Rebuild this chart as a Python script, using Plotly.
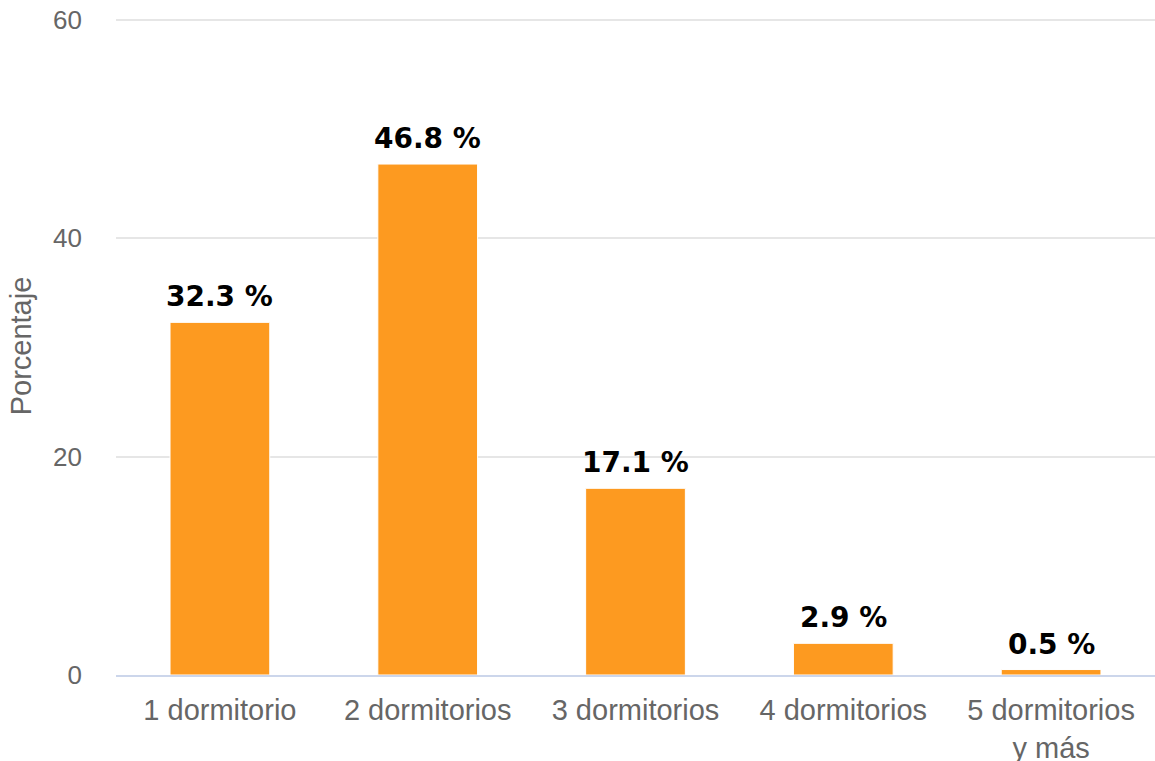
import plotly.graph_objects as go

categories = ["1 dormitorio", "2 dormitorios", "3 dormitorios", "4 dormitorios", "5 dormitorios<br>y más"]
values = [32.3, 46.8, 17.1, 2.9, 0.5]
y_ticks = [0, 20, 40, 60]

fig = go.Figure()
fig.add_trace(go.Bar(
    x=categories, y=values,
    marker=dict(color="#fd9a20", line=dict(color="#ffffff", width=1)),
    width=0.48,
    hoverinfo="skip",
))

for c, v in zip(categories, values):
    fig.add_annotation(
        x=c, y=v, text=f"{v} %", showarrow=False,
        yanchor="bottom", yshift=7,
        font=dict(family="DejaVu Sans", size=28, color="#000000", weight="bold"),
    )

fig.update_layout(
    width=1155, height=761,
    margin=dict(l=116, r=0, t=17, b=86),
    paper_bgcolor="white", plot_bgcolor="white",
    showlegend=False,
    font=dict(family="Liberation Sans, Arial", color="#666666"),
)
fig.update_xaxes(
    automargin=False,
    showgrid=False, showline=True, linecolor="#ccd6eb", linewidth=2,
    ticks="", tickfont=dict(size=29, color="#666666"),
    ticklabelstandoff=8,
)
fig.update_yaxes(
    automargin=False,
    range=[0, 60.27], tickvals=y_ticks, showgrid=True, gridcolor="#e6e6e6", gridwidth=2,
    zeroline=False, showline=False, ticks="",
    tickfont=dict(size=26, color="#666666"),
    ticklabelstandoff=33,
    title=dict(text="Porcentaje", font=dict(size=29, color="#666666"), standoff=12),
)

html = fig.to_html(include_plotlyjs=True, full_html=True, config={"displayModeBar": False})
html = html.replace("<body>", '<body style="margin:0;padding:0;overflow:hidden">', 1)
with open("out.html", "w", encoding="utf-8") as f:
    f.write(html)
